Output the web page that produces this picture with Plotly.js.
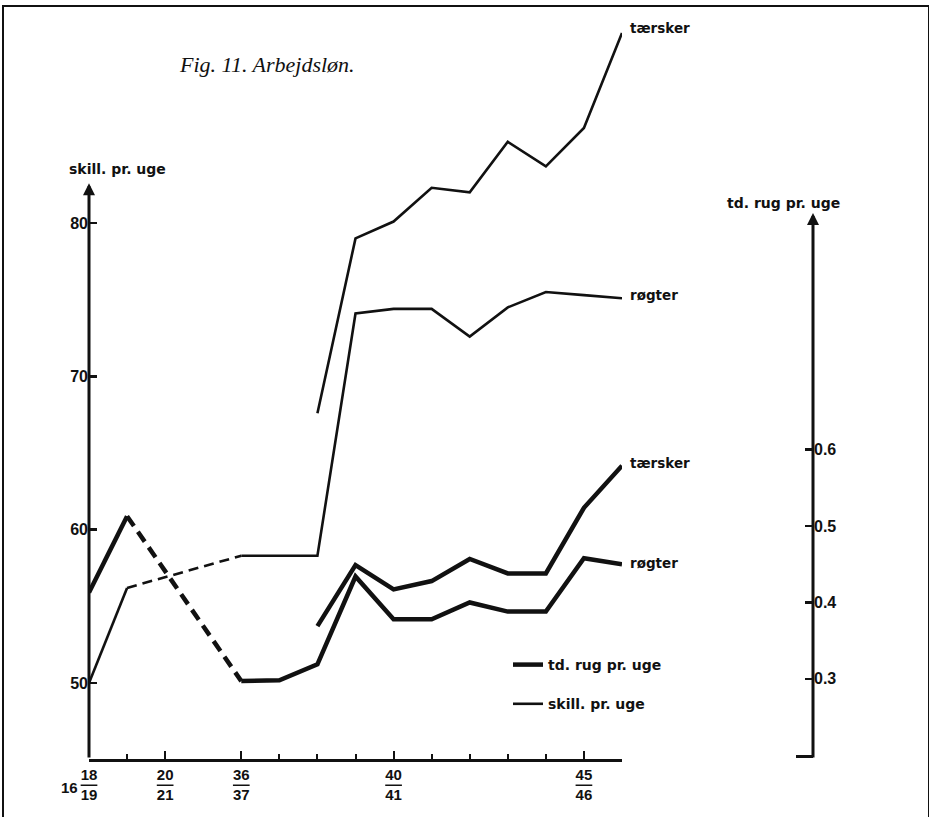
<!DOCTYPE html>
<html><head><meta charset="utf-8">
<script src="https://cdn.plot.ly/plotly-3.0.1.min.js"></script>
<style>
html,body{margin:0;padding:0;background:#fff;}
#wrap{position:relative;width:929px;height:817px;overflow:hidden;}
#chart{width:929px;height:817px;}
#frame{position:absolute;left:2px;top:5px;width:924px;height:900px;border:2px solid #111;border-bottom:none;pointer-events:none;}
</style></head><body>
<div id="wrap"><div id="chart"></div><div id="frame"></div></div>
<script>
// ---------- data ----------
const seasons = ['1618/19','1619/20','1620/21','1636/37','1637/38','1638/39','1639/40',
                 '1640/41','1641/42','1642/43','1643/44','1644/45','1645/46','1646/47'];
const tickSeasons = ['1618/19','1620/21','1636/37','1640/41','1645/46'];
const tickNumerators = ['18','20','36','40','45'];
const tickDenominators = ['19','21','37','41','46'];
const tickCentury = '16';
// skill. pr. uge (left axis, thin lines)
const skillTaersker = [null, null, null, null, null, 67.6, 79.0, 80.1, 82.3, 82.0, 85.3, 83.7, 86.2, 92.4];
const skillRogter   = [50.0, 56.2, null, 58.3, 58.3, 58.3, 74.1, 74.4, 74.4, 72.6, 74.5, 75.5, 75.3, 75.1];
// td. rug pr. uge (right axis, thick lines)
const rugTaersker = [null, null, null, null, null, 0.369, 0.449, 0.417, 0.428, 0.457, 0.438, 0.438, 0.524, 0.579];
const rugRogter   = [0.413, 0.513, null, 0.297, 0.298, 0.319, 0.434, 0.378, 0.378, 0.400, 0.388, 0.388, 0.458, 0.450];
const skillTicks = [50, 60, 70, 80];
const rugTicks = [0.3, 0.4, 0.5, 0.6];
const labelTaersker = 'tærsker';
const labelRogter = 'røgter';
const titleText = 'Fig. 11. Arbejdsløn.';
const skillTitle = 'skill. pr. uge';
const rugTitle = 'td. rug pr. uge';

// ---------- layout constants ----------
const W = 929, H = 817;
const M = {l: 89, r: 116, t: 20, b: 58};
const plotH = H - M.t - M.b;
const skillRange = [45.04, 45.04 + plotH / 15.33];
const skillTop = 82.6;
const rugRange = [0.195, 0.91];
const rugDomainTop = (H - M.b - 213) / plotH;
const pyPaper = p => (H - M.b - p) / plotH;

// axis slots: one empty slot where the time axis is broken
const startYear = s => parseInt(s.slice(0, 4), 10);
const slots = [];
seasons.forEach((s, i) => {
  if (i === 0) { slots.push(0); return; }
  const gap = startYear(s) - startYear(seasons[i - 1]);
  slots.push(slots[i - 1] + (gap > 1 ? 2 : 1));
});
const slotOf = s => slots[seasons.indexOf(s)];

function bridges(xs, ys) {
  const bx = [], by = [];
  for (let i = 0; i < ys.length; i++) {
    if (ys[i] == null) continue;
    if (i + 1 < ys.length && ys[i + 1] == null) {
      let k = i + 1;
      while (k < ys.length && ys[k] == null) k++;
      if (k < ys.length) { bx.push(xs[i], xs[k], null); by.push(ys[i], ys[k], null); }
    }
  }
  return {x: bx, y: by};
}

const BLACK = '#111';
const THIN = 2.6, THICK = 4.5;
const bSkill = bridges(slots, skillRogter);
const bRug = bridges(slots, rugRogter);

const traces = [
  {x: slots, y: rugRogter, yaxis: 'y2', mode: 'lines', name: rugTitle, legendgroup: 'rug',
   showlegend: true, line: {color: BLACK, width: THICK}, connectgaps: false, hoverinfo: 'skip'},
  {x: slots, y: rugTaersker, yaxis: 'y2', mode: 'lines', name: rugTitle + ' ' + labelTaersker, legendgroup: 'rug',
   showlegend: false, line: {color: BLACK, width: THICK}, connectgaps: false},
  {x: bRug.x, y: bRug.y, yaxis: 'y2', mode: 'lines', showlegend: false,
   line: {color: BLACK, width: THICK, dash: '12px,7px'}},
  {x: slots, y: skillRogter, yaxis: 'y', mode: 'lines', name: skillTitle, legendgroup: 'skill',
   showlegend: true, line: {color: BLACK, width: THIN}, connectgaps: false},
  {x: slots, y: skillTaersker, yaxis: 'y', mode: 'lines', name: skillTitle + ' ' + labelTaersker, legendgroup: 'skill',
   showlegend: false, line: {color: BLACK, width: THIN}, connectgaps: false},
  {x: bSkill.x, y: bSkill.y, yaxis: 'y', mode: 'lines', showlegend: false,
   line: {color: BLACK, width: THIN, dash: '10px,6px'}}
];

const last = a => a[a.length - 1];
const lastSlot = last(slots);
const labFont = {family: 'DejaVu Sans', size: 13.5, color: BLACK, weight: 'bold'};
const endLabel = (text, y, yaxis, yshift) => ({
  text, x: lastSlot, y, xref: 'x', yref: yaxis, xanchor: 'left', yanchor: 'middle',
  xshift: 6, yshift, showarrow: false, font: labFont
});

const annotations = [
  endLabel(labelTaersker, last(skillTaersker), 'y', 5),
  endLabel(labelRogter, last(skillRogter), 'y', 3),
  endLabel(labelTaersker, last(rugTaersker), 'y2', 3),
  endLabel(labelRogter, last(rugRogter), 'y2', 1),
  // axis titles
  {text: skillTitle, xref: 'paper', yref: 'paper', x: 0, y: pyPaper(169), xanchor: 'left', yanchor: 'middle',
   xshift: -22, showarrow: false, font: {family: 'DejaVu Sans', size: 14, color: BLACK, weight: 'bold'}},
  {text: rugTitle, xref: 'paper', yref: 'paper', x: 1, y: pyPaper(203), xanchor: 'center', yanchor: 'middle',
   xshift: -30, showarrow: false, font: {family: 'DejaVu Sans', size: 14, color: BLACK, weight: 'bold'}},
  // century prefix of first tick label
  {text: tickCentury, xref: 'x', yref: 'paper', x: 0, y: 0, xanchor: 'center', yanchor: 'middle',
   xshift: -20, yshift: -28, showarrow: false,
   font: {family: 'Liberation Sans', size: 15, color: BLACK, weight: 'bold'}},
  // axis arrows
  {text: '', xref: 'x', yref: 'y', x: 0, y: skillTop, axref: 'x', ayref: 'y', ax: 0, ay: skillRange[0],
   showarrow: true, arrowhead: 2, arrowsize: 0.8, arrowwidth: 3, arrowcolor: BLACK, standoff: 0},
  {text: '', xref: 'paper', yref: 'y2', x: 1, y: rugRange[1], axref: 'pixel', ayref: 'y2', ax: 0, ay: rugRange[0],
   showarrow: true, arrowhead: 2, arrowsize: 0.8, arrowwidth: 3, arrowcolor: BLACK, standoff: 0}
];

const tickText = tickNumerators.map((n, i) =>
  n + '<br><span style="text-decoration:overline;text-decoration-thickness:2.5px">' + tickDenominators[i] + '</span>');
const majorVals = tickSeasons.map(slotOf);
const minorVals = slots.filter(s => majorVals.indexOf(s) < 0);

const layout = {
  width: W, height: H,
  margin: M,
  paper_bgcolor: '#fff', plot_bgcolor: 'rgba(0,0,0,0)',
  title: {text: titleText, xref: 'container', yref: 'container', x: 180 / W, xanchor: 'left',
          y: 1 - 64 / H, yanchor: 'middle',
          font: {family: 'Liberation Serif', size: 22, color: BLACK, style: 'italic'}},
  showlegend: true,
  legend: {x: (508 - M.l) / (W - M.l - M.r), y: pyPaper(649), xanchor: 'left', yanchor: 'top',
           bgcolor: 'rgba(0,0,0,0)', traceorder: 'grouped', tracegroupgap: 18,
           font: {family: 'DejaVu Sans', size: 14, color: BLACK, weight: 'bold'}},
  xaxis: {domain: [0, (622 - M.l) / (W - M.l - M.r)], range: [0, lastSlot], anchor: 'y',
          showgrid: false, zeroline: false, showline: true, linewidth: 3, linecolor: BLACK,
          tickmode: 'array', tickvals: majorVals, ticktext: tickText,
          ticks: 'inside', ticklen: 8, tickwidth: 2, tickcolor: BLACK,
          tickfont: {family: 'Liberation Sans', size: 15, color: BLACK, weight: 'bold'},
          minor: {tickvals: minorVals, ticks: 'inside', ticklen: 5, tickwidth: 2, tickcolor: BLACK},
          fixedrange: true},
  yaxis: {domain: [0, 1], range: skillRange, anchor: 'x',
          showgrid: false, zeroline: false, showline: false,
          tickmode: 'array', tickvals: skillTicks, ticks: 'inside', ticklen: 8, tickwidth: 2.5, tickcolor: BLACK,
          tickfont: {family: 'Liberation Sans', size: 16, color: BLACK, weight: 'bold'}, fixedrange: true},
  yaxis2: {domain: [0, rugDomainTop], range: rugRange, anchor: 'free', position: 1, side: 'right',
           showgrid: false, zeroline: false, showline: false,
           tickmode: 'array', tickvals: rugTicks, ticktext: rugTicks.map(v => v.toFixed(1)),
           ticks: 'inside', ticklen: 8, tickwidth: 2.5, tickcolor: BLACK,
           minor: {tickvals: [rugRange[0] + 0.003], ticks: 'inside', ticklen: 17, tickwidth: 2.5, tickcolor: BLACK},
           tickfont: {family: 'Liberation Sans', size: 16, color: BLACK, weight: 'bold'}, fixedrange: true},
  annotations
};

Plotly.newPlot('chart', traces, layout, {staticPlot: true, displayModeBar: false});
</script>
</body></html>
